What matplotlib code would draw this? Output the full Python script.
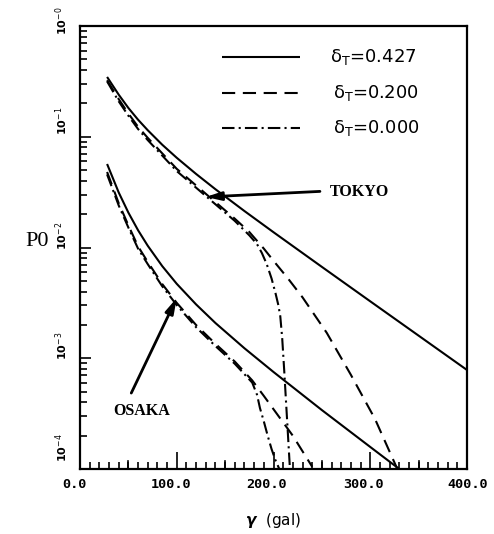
import numpy as np
import matplotlib
matplotlib.use("Agg")
import matplotlib.pyplot as plt
from matplotlib.ticker import FixedLocator, NullFormatter
import matplotlib.transforms as mtransforms

plt.rcParams['lines.scale_dashes'] = False

# ---------------- data: gamma (gal) and log10(P0) ----------------
tokyo_solid_x = [28, 40, 50, 60, 70, 85, 100, 120, 140, 170, 200, 250, 300, 350, 400]
tokyo_solid_logp = [-0.46, -0.62, -0.74, -0.846, -0.941, -1.072, -1.19, -1.336, -1.474,
                    -1.671, -1.862, -2.175, -2.486, -2.796, -3.106]

tokyo_dash_x = [28, 40, 50, 60, 70, 85, 100, 120, 140, 160, 175, 190, 200, 215, 230, 255, 280, 305, 328]
tokyo_dash_logp = [-0.49, -0.66, -0.79, -0.91, -1.01, -1.15, -1.29, -1.44, -1.59, -1.74, -1.86,
                   -2.01, -2.12, -2.28, -2.45, -2.77, -3.15, -3.55, -4.0]

tokyo_dd_x = [28, 40, 50, 60, 70, 85, 100, 120, 140, 160, 175, 183, 188, 193, 198, 202, 205, 207,
              209, 211, 213, 215, 217]
tokyo_dd_logp = [-0.50, -0.68, -0.81, -0.93, -1.03, -1.17, -1.31, -1.46, -1.61, -1.76, -1.89,
                 -1.97, -2.05, -2.15, -2.28, -2.41, -2.52, -2.62, -2.82, -3.10, -3.40, -3.70, -4.0]

osaka_solid_x = [28, 40, 50, 60, 70, 85, 100, 120, 140, 170, 200, 250, 300, 330]
osaka_solid_logp = [-1.246, -1.503, -1.685, -1.844, -1.984, -2.168, -2.328, -2.514, -2.682,
                    -2.910, -3.124, -3.468, -3.801, -4.0]

osaka_dash_x = [28, 40, 50, 60, 70, 85, 100, 120, 140, 160, 178, 190, 200, 210, 220, 230, 240]
osaka_dash_logp = [-1.318, -1.60, -1.80, -1.99, -2.13, -2.33, -2.50, -2.70, -2.87, -3.03, -3.20,
                   -3.34, -3.46, -3.58, -3.70, -3.84, -3.98]

osaka_dd_x = [28, 40, 50, 60, 70, 85, 100, 120, 140, 160, 178, 183, 186, 190, 194, 198, 202, 206]
osaka_dd_logp = [-1.34, -1.62, -1.82, -2.01, -2.15, -2.35, -2.52, -2.72, -2.89, -3.05, -3.22,
                 -3.33, -3.45, -3.57, -3.70, -3.82, -3.92, -4.0]

legend_labels = ['δ$_{\\mathrm{T}}$=0.427', 'δ$_{\\mathrm{T}}$=0.200', 'δ$_{\\mathrm{T}}$=0.000']
xtick_values = [0, 100, 200, 300, 400]
xtick_labels = ['0.0', '100.0', '200.0', '300.0', '400.0']
ytick_values = [1e0, 1e-1, 1e-2, 1e-3, 1e-4]
ytick_labels = ['10$^{-0}$', '10$^{-1}$', '10$^{-2}$', '10$^{-3}$', '10$^{-4}$']

# ---------------- figure ----------------
W, H = 494, 534
fig = plt.figure(figsize=(W / 100, H / 100), dpi=100)
L, R, T, B = 80, 467, 26, 469
ax = fig.add_axes([L / W, 1 - B / H, (R - L) / W, (B - T) / H])
ax.set_yscale('log')
ax.set_xlim(0, 400)
ax.set_ylim(1e-4, 1e0)

lw = 1.5
dash = (0, (9.5, 5.5))
dashdot = (0, (9.0, 3.0, 1.5, 3.0))
solid_kw = dict(color='black', lw=lw, ls='-', solid_capstyle='butt')
dash_kw = dict(color='black', lw=lw, ls=dash)
dd_kw = dict(color='black', lw=lw, ls=dashdot)

def P(v):
    return 10 ** np.asarray(v, dtype=float)

ax.plot(tokyo_solid_x, P(tokyo_solid_logp), **solid_kw)
ax.plot(tokyo_dash_x, P(tokyo_dash_logp), **dash_kw)
ax.plot(tokyo_dd_x, P(tokyo_dd_logp), **dd_kw)
ax.plot(osaka_solid_x, P(osaka_solid_logp), **solid_kw)
ax.plot(osaka_dash_x, P(osaka_dash_logp), **dash_kw)
ax.plot(osaka_dd_x, P(osaka_dd_logp), **dd_kw)

# legend drawn manually (line samples + labels)
leg_y = [10 ** (-(57 - T) / 110.75), 10 ** (-(93 - T) / 110.75), 10 ** (-(128 - T) / 110.75)]
leg_x = [258, 261, 261]
leg_styles = [solid_kw, dash_kw, dd_kw]
for yy, xx, kw, lab in zip(leg_y, leg_x, leg_styles, legend_labels):
    ax.plot([147, 227], [yy, yy], **kw)
    ax.text(xx, yy, lab, fontsize=13, va='center', ha='left', fontfamily='DejaVu Sans')

# annotations
ax.annotate('', xy=(130, 0.0286), xytext=(248, 0.0321),
            arrowprops=dict(arrowstyle='-|>,head_length=0.9,head_width=0.25', lw=2, color='black',
                            shrinkA=0, shrinkB=0))
ax.text(258, 0.032, 'TOKYO', fontsize=11.5, fontweight='bold', fontfamily='Liberation Serif',
        va='center', ha='left')
ax.annotate('', xy=(100, 0.0035), xytext=(53, 0.000485),
            arrowprops=dict(arrowstyle='-|>,head_length=0.9,head_width=0.25', lw=2, color='black',
                            shrinkA=0, shrinkB=0))
ax.text(63.5, 10 ** (-(411 - T) / 110.75), 'OSAKA', fontsize=11.5, fontweight='bold',
        fontfamily='Liberation Serif', va='center', ha='center')

# ticks
ax.tick_params(which='both', direction='in', top=False, right=False, width=1.2)
ax.xaxis.set_major_locator(FixedLocator(xtick_values))
ax.xaxis.set_minor_locator(FixedLocator([v for v in range(0, 401, 10) if v % 100 != 0]))
ax.tick_params(axis='x', which='major', length=12)
ax.tick_params(axis='x', which='minor', length=5)
for v in [50, 150, 250, 350]:
    ax.plot([v, v], [0, 0.018], transform=ax.get_xaxis_transform(), color='black', lw=1.2, clip_on=False)
ax.set_xticklabels([])
ax.yaxis.set_major_locator(FixedLocator(ytick_values))
ax.tick_params(axis='y', which='major', length=8)
ax.tick_params(axis='y', which='minor', length=5)
ax.yaxis.set_minor_formatter(NullFormatter())
ax.set_yticklabels([])

for s in ax.spines.values():
    s.set_linewidth(1.6)

# x tick labels (manual for per-label offset)
xoffs = [-6, -6, -7, -7, 1]
for v, lab, o in zip(xtick_values, xtick_labels, xoffs):
    tr = ax.get_xaxis_transform() + mtransforms.ScaledTranslation(o / 100, -16 / 100, fig.dpi_scale_trans)
    ax.text(v, 0, lab, transform=tr, fontsize=9.7, fontweight='bold', fontfamily='DejaVu Sans Mono',
            ha='center', va='center')

# y tick labels rotated
yoffs = [-9, 2, -2, -2, 7]
for v, lab, o in zip(ytick_values, ytick_labels, yoffs):
    tr = ax.get_yaxis_transform() + mtransforms.ScaledTranslation(-18 / 100, o / 100, fig.dpi_scale_trans)
    ax.text(0, v, lab, transform=tr, fontsize=8, fontweight='bold', rotation=90,
            ha='center', va='bottom')

# axis labels
fig.text(37 / W, 1 - 241 / H, 'P0', fontsize=16, fontfamily='Liberation Serif', ha='center', va='center')
fig.text(273 / W, 1 - 521 / H, r'$\boldsymbol{\gamma}$  (gal)', fontsize=11, ha='center', va='center')

fig.savefig('out.png', dpi=100)
